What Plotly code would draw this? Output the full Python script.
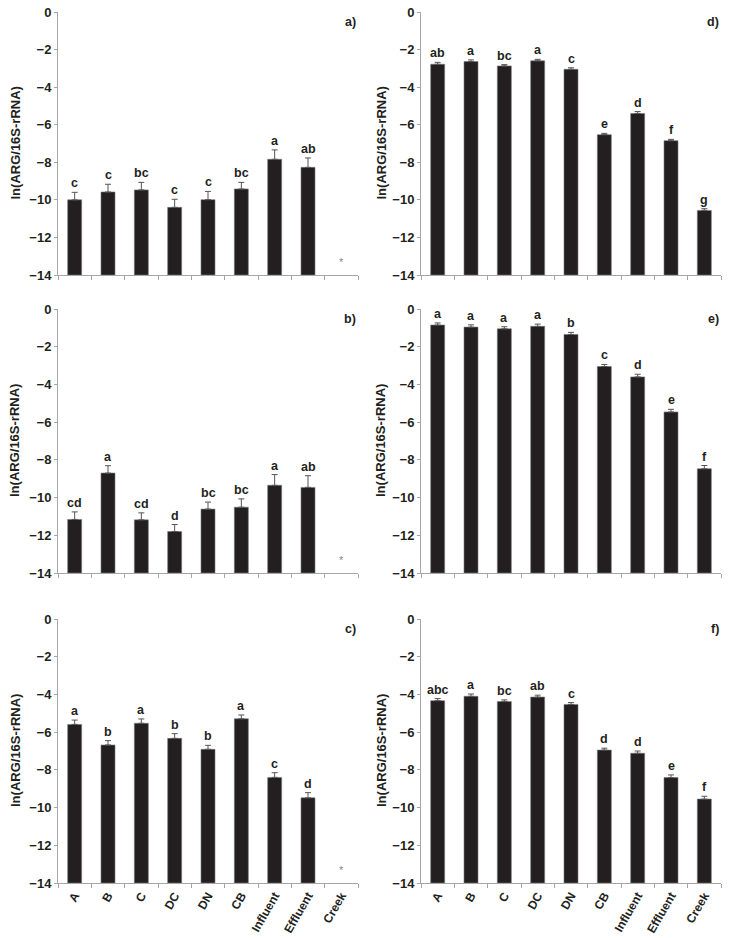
import plotly.graph_objects as go

categories = ["A", "B", "C", "DC", "DN", "CB", "Influent", "Effluent", "Creek"]

vals_a = [-10.0, -9.58, -9.47, -10.4, -9.99, -9.42, -7.84, -8.27, None]
err_a = [0.40, 0.41, 0.40, 0.43, 0.44, 0.35, 0.50, 0.50, None]
let_a = ["c", "c", "bc", "c", "c", "bc", "a", "ab", ""]

vals_b = [-11.16, -8.70, -11.18, -11.80, -10.61, -10.51, -9.35, -9.46, None]
err_b = [0.40, 0.39, 0.37, 0.37, 0.37, 0.44, 0.57, 0.62, None]
let_b = ["cd", "a", "cd", "d", "bc", "bc", "a", "ab", ""]

vals_c = [-5.59, -6.68, -5.53, -6.33, -6.91, -5.29, -8.40, -9.48, None]
err_c = [0.23, 0.23, 0.23, 0.25, 0.21, 0.20, 0.25, 0.27, None]
let_c = ["a", "b", "a", "b", "b", "a", "c", "d", ""]

vals_d = [-2.78, -2.64, -2.87, -2.60, -3.05, -6.53, -5.40, -6.85, -10.56]
err_d = [0.10, 0.09, 0.07, 0.08, 0.08, 0.07, 0.10, 0.07, 0.09]
let_d = ["ab", "a", "bc", "a", "c", "e", "d", "f", "g"]

vals_e = [-0.85, -0.96, -1.05, -0.92, -1.35, -3.05, -3.60, -5.46, -8.47]
err_e = [0.11, 0.12, 0.11, 0.12, 0.11, 0.11, 0.14, 0.14, 0.17]
let_e = ["a", "a", "a", "a", "b", "c", "d", "e", "f"]

vals_f = [-4.33, -4.10, -4.38, -4.14, -4.53, -6.95, -7.12, -8.41, -9.55]
err_f = [0.11, 0.12, 0.09, 0.10, 0.10, 0.10, 0.12, 0.14, 0.15]
let_f = ["abc", "a", "bc", "ab", "c", "d", "d", "e", "f"]

panel_labels = ["a)", "b)", "c)", "d)", "e)", "f)"]
y_title = "ln(ARG/16S-rRNA)"
y_ticks = [0, -2, -4, -6, -8, -10, -12, -14]
y_min, y_max = -14, 0

panels = [
    (vals_a, err_a, let_a), (vals_b, err_b, let_b), (vals_c, err_c, let_c),
    (vals_d, err_d, let_d), (vals_e, err_e, let_e), (vals_f, err_f, let_f),
]

W, H = 732, 938
col_x = [(58, 358), (421, 721)]
row_y = [(12, 275), (309, 573), (619, 883)]

FONT = "Liberation Sans, Arial, Helvetica, sans-serif"
BAR = "#231f20"
AXIS = "#a6a6a6"

fig = go.Figure()
annotations = []

for i, (vals, errs, lets) in enumerate(panels):
    col = i // 3
    row = i % 3
    n = i + 1
    xa = "x" if n == 1 else f"x{n}"
    ya = "y" if n == 1 else f"y{n}"
    heights = [None if v is None else v - y_min for v in vals]
    fig.add_trace(go.Bar(
        x=categories, y=heights, base=y_min,
        xaxis=xa, yaxis=ya, width=0.42,
        marker=dict(color=BAR, line=dict(color="#7a7a7a", width=0.6)),
        error_y=dict(type="data", symmetric=False,
                     array=[0 if e is None else e for e in errs],
                     arrayminus=[0] * len(errs),
                     color="#555555", thickness=1, width=3),
        showlegend=False, hoverinfo="skip",
    ))
    x0, x1 = col_x[col]
    yt, yb = row_y[row]
    dom_x = [x0 / W, x1 / W]
    dom_y = [1 - yb / H, 1 - yt / H]
    fig.layout[f"xaxis{'' if n == 1 else n}"] = dict(
        domain=dom_x, anchor=ya, type="category", automargin=False,
        categoryorder="array", categoryarray=categories,
        range=[-0.5, len(categories) - 0.5],
        showline=True, linecolor=AXIS, linewidth=1,
        ticks="outside", tickson="boundaries", ticklen=4, tickcolor=AXIS,
        showticklabels=(row == 2), tickangle=-60,
        tickfont=dict(family=FONT, size=12, color="#231f20", weight="bold"),
        showgrid=False, zeroline=False,
    )
    fig.layout[f"yaxis{'' if n == 1 else n}"] = dict(
        domain=dom_y, anchor=xa, range=[y_min, y_max], automargin=False,
        tickvals=y_ticks, ticks="outside", ticklen=3, tickcolor=AXIS,
        showline=True, linecolor=AXIS, linewidth=1,
        tickfont=dict(family=FONT, size=13, color="#231f20", weight="bold"),
        showgrid=False, zeroline=False,
    )
    for c, v, e, t in zip(categories, vals, errs, lets):
        if v is None:
            annotations.append(dict(x=c, y=-13.3, xref=xa, yref=ya, text="*",
                                    showarrow=False,
                                    font=dict(family=FONT, size=11, color="#888888")))
            continue
        annotations.append(dict(x=c, y=v + e, xref=xa, yref=ya, text=t,
                                showarrow=False, yanchor="bottom", yshift=0,
                                font=dict(family=FONT, size=12.5, color="#231f20",
                                          weight="bold")))
    annotations.append(dict(x=1, y=1, xref=f"{xa} domain", yref=f"{ya} domain",
                            text=panel_labels[i], showarrow=False,
                            xanchor="right", yanchor="top", yshift=-1,
                            font=dict(family=FONT, size=12.5, color="#231f20",
                                      weight="bold")))
    annotations.append(dict(x=(15 if col == 0 else 381) / W, y=(dom_y[0] + dom_y[1]) / 2,
                            xref="paper", yref="paper", text=y_title,
                            textangle=-90, showarrow=False,
                            xanchor="center", yanchor="middle",
                            font=dict(family=FONT, size=13, color="#231f20",
                                      weight="bold")))

fig.update_layout(
    width=W, height=H, margin=dict(l=0, r=0, t=0, b=0, autoexpand=False),
    paper_bgcolor="white", plot_bgcolor="white",
    annotations=annotations, bargap=0.58,
)

fig.write_html("out.html", config={"displayModeBar": False},
               post_script="document.body.style.margin='0';document.body.style.padding='0';")
